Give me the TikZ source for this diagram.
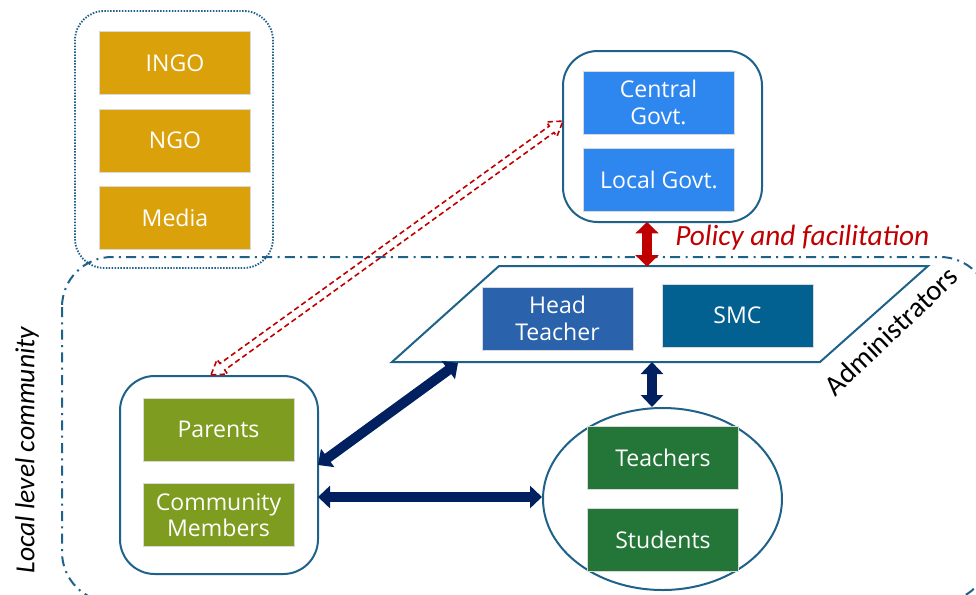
\documentclass[tikz,border=0pt]{standalone}
\usepackage{fontspec}
\setmainfont{Open Sans}
\newfontfamily\labelfont{Carlito}
\usetikzlibrary{arrows.meta,shapes.geometric,calc}
\definecolor{frameblue}{RGB}{30,98,138}
\definecolor{gold}{RGB}{219,161,11}
\definecolor{govblue}{RGB}{46,134,239}
\definecolor{htblue}{RGB}{43,98,172}
\definecolor{smcblue}{RGB}{3,97,145}
\definecolor{tgreen}{RGB}{35,117,56}
\definecolor{olive}{RGB}{126,156,31}
\definecolor{navy}{RGB}{0,32,96}
\definecolor{darkred}{RGB}{192,0,0}
\begin{document}
\begin{tikzpicture}[x=0.75pt,y=-0.75pt,
  box/.style={rectangle, inner sep=0pt, minimum width=113.25pt, minimum height=47.25pt,
    text=white, align=center, draw=white!85!black, line width=0.4pt,
    font=\fontsize{17.3}{20}\selectfont},
  container/.style={rectangle, rounded corners=26pt, draw=frameblue, line width=1.5pt, inner sep=0pt},
  navyarrow/.style={draw=navy, line width=7.5pt, {Triangle[length=9pt,width=16.5pt]}-{Triangle[length=9pt,width=16.5pt]}},
  redarrow/.style={draw=darkred, line width=8pt, {Triangle[length=8.5pt,width=17pt]}-{Triangle[length=8.5pt,width=17pt]}},
  dashdot/.style={draw=frameblue, line width=1.5pt, dash pattern=on 7.5pt off 4pt on 1.5pt off 4pt},
  dotbox/.style={draw=frameblue, line width=1.4pt, dash pattern=on 1.1pt off 1.1pt},
  lbl/.style={font=\labelfont\fontsize{20}{24}\selectfont, inner sep=0pt}
]
\useasboundingbox (0,0) rectangle (976,594);

% local level community region
\draw[dashdot, rounded corners=37.5pt] (62,257) rectangle (990,602);

% dotted NGO group
\node[container, dotbox, rounded corners=22pt, minimum width=148.5pt, minimum height=192.75pt] (ngogrp) at (174,139.5) {};
\node[box, fill=gold] (ingo) at (175,63) {INGO};
\node[box, fill=gold] (ngo) at (175,140.5) {NGO};
\node[box, fill=gold] (media) at (175,218) {Media};

% government
\node[container, minimum width=149.25pt, minimum height=128.25pt] (gov) at (662.5,136.5) {};
\node[box, fill=govblue] (central) at (658.5,102.5) {Central\\Govt.};
\node[box, fill=govblue] (localgov) at (659,179.5) {Local Govt.};

% administrators parallelogram
\coordinate (pa) at (392,362);
\coordinate (pb) at (820,362);
\coordinate (pc) at (928,266);
\coordinate (pd) at (499,266);
\draw[frameblue, line width=1.5pt, fill=white, line join=miter] (pa) -- (pb) -- (pc) -- (pd) -- cycle;
\node[box, fill=htblue] (head) at (557.5,318.5) {Head\\Teacher};
\node[box, fill=smcblue] (smc) at (737.5,315.5) {SMC};

% parents / community
\node[container, minimum width=148.5pt, minimum height=148.5pt] (comm) at (219,475) {};
\node[box, fill=olive] (parents) at (218.5,429.5) {Parents};
\node[box, fill=olive] (members) at (218.5,515) {Community\\Members};

% teachers / students
\node[ellipse, draw=frameblue, line width=1.5pt, minimum width=179.25pt, minimum height=136.5pt, inner sep=0pt] (school) at (662.5,499) {};
\node[box, fill=tgreen] (teachers) at (663,458) {Teachers};
\node[box, fill=tgreen] (students) at (663,539.5) {Students};

% connectors
\coordinate (rtop) at (647,222);
\coordinate (rbot) at (647,266.5);
\draw[redarrow] (rtop) -- (rbot);

\coordinate (vtop) at (652,362);
\draw[navyarrow] (vtop) -- (vtop |- school.north);

\coordinate (hl) at (318,497);
\draw[navyarrow] (hl) -- (hl -| school.west);

\coordinate (dl) at (318,465);
\coordinate (du) at (458,363);
\draw[navyarrow] (dl) -- (du);

% dashed hollow double arrow between government and community
\coordinate (dA) at (211,375);
\coordinate (dB) at (563,121);
\begin{scope}[shift={($(dA)!0.5!(dB)$)}, rotate=35.8]
\draw[darkred, line width=1.2pt, dash pattern=on 4pt off 2.5pt, line join=miter]
  (-217,0) -- (-203,9) -- (-203,4) -- (203,4) -- (203,9) -- (217,0)
  -- (203,-9) -- (203,-4) -- (-203,-4) -- (-203,-9) -- cycle;
\end{scope}

% labels
\node[lbl, text=darkred, anchor=west, font=\labelfont\fontsize{22}{26}\selectfont\itshape] (policy) at (675,238) {Policy and facilitation};
\node[lbl, rotate=43.5, font=\labelfont\fontsize{21.5}{24}\selectfont] (admin) at (891,331) {Administrators};
\node[lbl, rotate=90, font=\labelfont\fontsize{20.7}{24}\selectfont\itshape] (local) at (27,450) {Local level community};
\end{tikzpicture}
\end{document}
